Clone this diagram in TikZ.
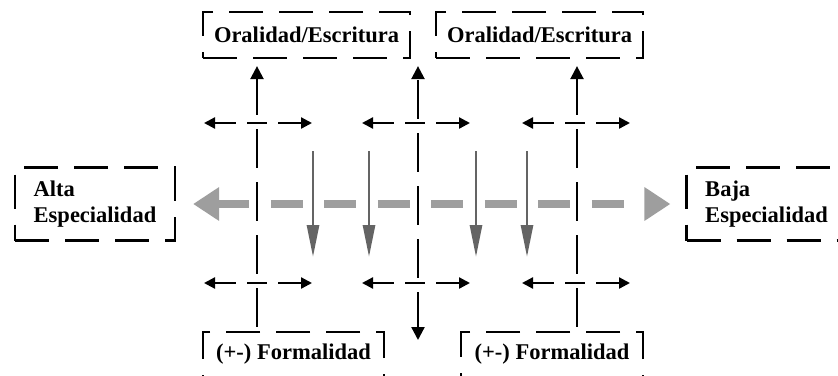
\documentclass[tikz,border=0pt]{standalone}
\usepackage{fontspec}
\setmainfont{Liberation Serif}
\usetikzlibrary{arrows.meta}
\definecolor{lightg}{RGB}{158,158,158}
\definecolor{darkg}{RGB}{100,100,100}
\begin{document}
\begin{tikzpicture}[x=1pt,y=-1pt,
  box/.style={draw, line width=2.2pt, dash pattern=on 34pt off 16pt, rectangle, inner sep=0pt,
    font=\fontsize{22.5}{26}\selectfont\bfseries},
  vline/.style={line width=2.3pt, dash pattern=on 39pt off 14pt},
  hline/.style={line width=2.3pt, dash pattern=on 22pt off 11pt on 20pt off 11pt on 40pt,
    {Triangle[width=11pt,length=11pt]}-{Triangle[width=11pt,length=11pt]}},
  greyarrow/.style={lightg, line width=8pt, dash pattern=on 32pt off 21.5pt,
    {Triangle[width=32pt,length=26pt]}-{Triangle[width=32pt,length=26pt]}},
  downarrow/.style={darkg, line width=2.8pt, -{Triangle[width=12pt,length=32pt]}}
]
\useasboundingbox (0,0) rectangle (838,375);
\clip (0,0) rectangle (838,375);

% boxes
\node[box, minimum width=207pt, minimum height=46pt] (oe1) at (306.5,35) {Oralidad/Escritura};
\node[box, minimum width=207pt, minimum height=46pt] (oe2) at (539.5,35) {Oralidad/Escritura};
\node[box, minimum width=160pt, minimum height=73pt, align=left] (alta) at (95,204) {Alta\\Especialidad};
\node[box, minimum width=160pt, minimum height=73pt, align=left] (baja) at (766.5,204) {Baja\\Especialidad};
\node[box, minimum width=181pt, minimum height=45pt] (f1) at (293.5,354.5) {(+-) Formalidad};
\node[box, minimum width=182pt, minimum height=45pt] (f2) at (552,354.5) {(+-) Formalidad};

% column coordinates
\coordinate (x1) at (257,0);
\coordinate (x2) at (418,0);
\coordinate (x3) at (577,0);
\coordinate (b2) at (418,340);

% vertical dashed lines
\draw[vline, dash phase=49pt, -{Triangle[width=13pt,length=13pt]}, shorten >=7pt]
  (x1 |- f1.north) -- (x1 |- oe1.south);
\draw[vline, dash phase=49pt, -{Triangle[width=13pt,length=13pt]}, shorten >=7pt]
  (x3 |- f2.north) -- (x3 |- oe2.south);
\draw[vline, dash phase=3pt, {Triangle[width=13pt,length=13pt]}-{Triangle[width=13pt,length=13pt]}, shorten >=7pt]
  (b2) -- (x2 |- oe1.south);

% horizontal double arrows
\coordinate (h1l) at (204,123); \coordinate (h1r) at (312,123);
\coordinate (h2l) at (362,123); \coordinate (h2r) at (470,123);
\coordinate (h3l) at (522,123); \coordinate (h3r) at (630,123);
\coordinate (h4l) at (204,283); \coordinate (h4r) at (312,283);
\coordinate (h5l) at (362,283); \coordinate (h5r) at (470,283);
\coordinate (h6l) at (522,283); \coordinate (h6r) at (630,283);
\draw[hline] (h1l) -- (h1r);
\draw[hline] (h2l) -- (h2r);
\draw[hline] (h3l) -- (h3r);
\draw[hline] (h4l) -- (h4r);
\draw[hline] (h5l) -- (h5r);
\draw[hline] (h6l) -- (h6r);

% grey dashed double arrow
\draw[greyarrow, shorten <=17pt, shorten >=15pt] (alta.east) -- (baja.west);

% grey down arrows
\coordinate (d1t) at (313,151); \coordinate (d1b) at (313,257);
\coordinate (d2t) at (369,151); \coordinate (d2b) at (369,257);
\coordinate (d3t) at (476,151); \coordinate (d3b) at (476,257);
\coordinate (d4t) at (527,151); \coordinate (d4b) at (527,257);
\draw[downarrow] (d1t) -- (d1b);
\draw[downarrow] (d2t) -- (d2b);
\draw[downarrow] (d3t) -- (d3b);
\draw[downarrow] (d4t) -- (d4b);
\end{tikzpicture}
\end{document}
